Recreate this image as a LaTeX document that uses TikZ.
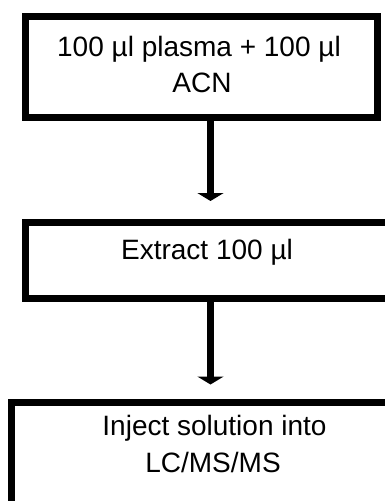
\documentclass[tikz,border=0pt]{standalone}
\usepackage{fontspec}
\setmainfont{Liberation Sans}
\usetikzlibrary{arrows.meta}
\begin{document}
\begin{tikzpicture}[x=1pt,y=-1pt,
  stepbox/.style={draw=black,line width=7pt,fill=white,inner sep=0pt},
  steptext/.style={anchor=base,inner sep=0pt,font=\fontsize{28}{36}\selectfont},
  flowarrow/.style={line width=7.7pt,-{Triangle[width=26pt,length=8pt]}}]
\clip (0,0) rectangle (385,501);
\fill[white] (0,0) rectangle (385,501);
% process boxes
\node[stepbox,minimum width=352pt,minimum height=101pt] (b1) at (201.5,67) {};
\node[stepbox,minimum width=363pt,minimum height=76pt] (b2) at (207,260.5) {};
\node[stepbox,minimum width=405pt,minimum height=138pt] (b3) at (214,471) {};
% box labels
\node[steptext] (t1a) at (199,56.7) {100 µl plasma + 100 µl};
\node[steptext] (t1b) at (202,92.3) {ACN};
\node[steptext] (t2) at (207,259) {Extract 100 µl};
\node[steptext] (t3a) at (214.5,435.5) {Inject solution into};
\node[steptext] (t3b) at (213,472) {LC/MS/MS};
% flow arrows
\coordinate (ax) at (210.5,0);
\draw[flowarrow,shorten >=18pt] (b1.south -| ax) -- (b2.north -| ax);
\draw[flowarrow,shorten >=14pt] (b2.south -| ax) -- (b3.north -| ax);
\end{tikzpicture}
\end{document}
